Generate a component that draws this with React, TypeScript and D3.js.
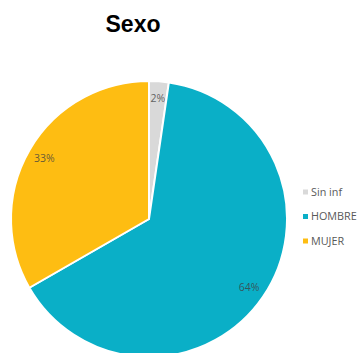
import React from "react";
import * as d3 from "d3";

const categories = ["Sin inf", "HOMBRE", "MUJER"];
const values = [2.3, 64.4, 33.3];
const colors = ["#D9D9D9", "#0AAFC7", "#FEBD12"];
const title = "Sexo";

export default function App() {
  const width = 362;
  const height = 353;
  const cx = 149;
  const cy = 219;
  const r = 138;
  const data = categories.map((c, i) => ({ c, v: values[i], color: colors[i] }));
  const pie = d3.pie<any>().value((d) => d.v).sort(null);
  const arcs = pie(data);
  const total = d3.sum(values);
  const arc = d3.arc<any>().innerRadius(0).outerRadius(r);
  const labelArc = d3.arc<any>().innerRadius(121).outerRadius(121);
  return (
    <svg
      width={width}
      height={height}
      style={{ position: "absolute", left: 0, top: 0, background: "#fff" }}
    >
      <text
        x={133}
        y={32}
        textAnchor="middle"
        fontFamily="Liberation Sans, Arial, sans-serif"
        fontWeight="bold"
        fontSize={23}
        fill="#000"
      >
        {title}
      </text>
      <g transform={`translate(${cx},${cy})`}>
        {arcs.map((a, i) => (
          <path key={i} d={arc(a) as string} fill={a.data.color} stroke="#fff" strokeWidth={2} />
        ))}
        {arcs.map((a, i) => {
          const [x, y] = labelArc.centroid(a);
          return (
            <text
              key={"l" + i}
              x={x}
              y={y}
              dy="0.35em"
              textAnchor="middle"
              fontFamily="Open Sans, Liberation Sans, sans-serif"
              fontSize={10.5}
              fill="#404040"
              fillOpacity={0.8}
            >
              {Math.round((a.data.v / total) * 100) + "%"}
            </text>
          );
        })}
      </g>
      <g>
        {data.map((d, i) => (
          <g key={"lg" + i} transform={`translate(303,${192 + i * 24.5})`}>
            <rect x={0} y={-2.5} width={5} height={5} fill={d.color} />
            <text
              x={8}
              y={0}
              dy="0.35em"
              fontFamily="Open Sans, Liberation Sans, sans-serif"
              fontSize={10.8}
              fill="#595959"
            >
              {d.c}
            </text>
          </g>
        ))}
      </g>
    </svg>
  );
}
